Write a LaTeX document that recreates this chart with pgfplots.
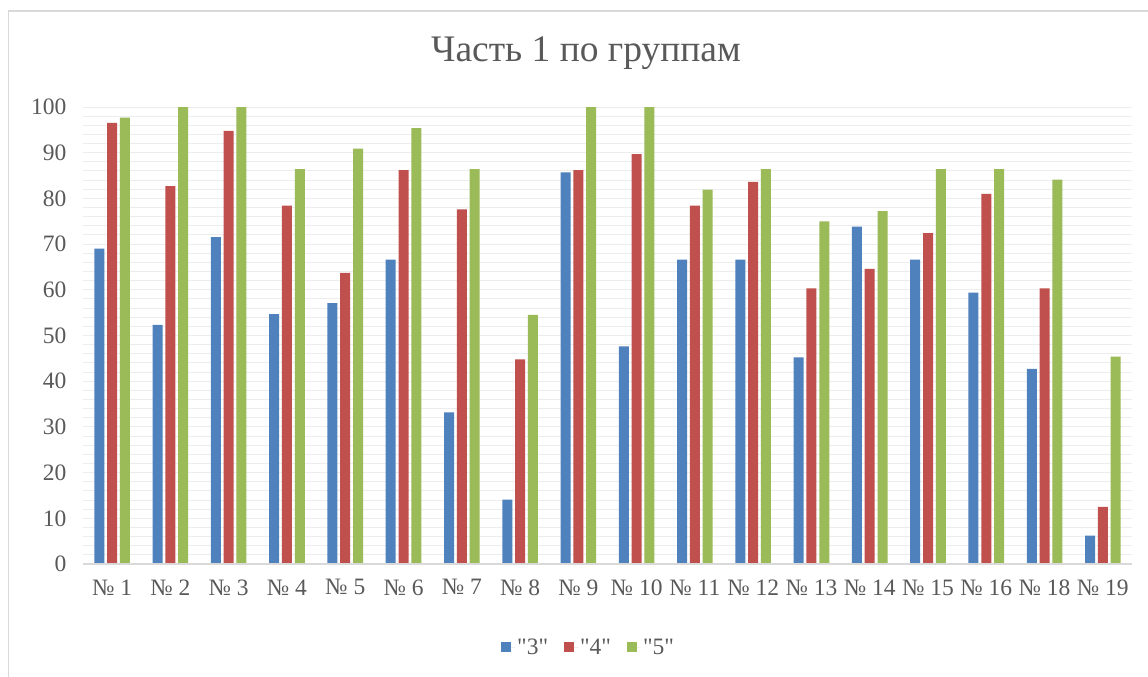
\documentclass[border=0pt]{standalone}
\usepackage{fontspec}
\setmainfont{Liberation Serif}[Ligatures=TeXOff]
\usepackage{pgfplots}
\pgfplotsset{compat=1.18}

\definecolor{cthree}{HTML}{4F81BD}
\definecolor{cfour}{HTML}{C0504D}
\definecolor{cfive}{HTML}{9BBB59}
\definecolor{txt}{HTML}{595959}
\definecolor{gridc}{HTML}{EDEDED}
\definecolor{axc}{HTML}{D9D9D9}

\pgfplotstableread{
x  three four five
0  69.0  96.5  97.7
1  52.3  82.7  100
2  71.5  94.8  100
3  54.7  78.4  86.4
4  57.1  63.7  90.9
5  66.6  86.2  95.4
6  33.2  77.6  86.4
7  14.1  44.8  54.5
8  85.7  86.2  100
9  47.6  89.7  100
10 66.6  78.4  81.9
11 66.6  83.6  86.4
12 45.2  60.3  75.0
13 73.8  64.6  77.2
14 66.6  72.4  86.4
15 59.4  81.0  86.4
16 42.7  60.3  84.1
17 6.2   12.5  45.4
}\grades

\begin{document}
\begin{tikzpicture}
\useasboundingbox (0,0) rectangle (1148pt,-677pt);
\fill[white] (0,0) rectangle (1148pt,-677pt);
\draw[axc, line width=1.2pt] (8.5pt,-690pt) -- (8.5pt,-11pt) -- (1160pt,-11pt);
\node[txt, font=\fontsize{37.5}{42}\selectfont] at (586pt,-53pt) {Часть 1 по группам};
\begin{axis}[
    at={(83pt,-564pt)}, anchor=south west,
    scale only axis,
    width=1049pt, height=457pt,
    ybar, bar width=10pt, ybar=2.8pt,
    xmin=-0.5, xmax=17.5,
    ymin=0, ymax=100,
    xtick=data,
    xticklabels={№ 1,№ 2,№ 3,№ 4,№ 5,№ 6,№ 7,№ 8,№ 9,№ 10,№ 11,№ 12,№ 13,№ 14,№ 15,№ 16,№ 18,№ 19},
    ytick={0,10,...,100},
    minor ytick={0,2,...,100},
    ymajorgrids, yminorgrids,
    major grid style={gridc, line width=1pt},
    minor grid style={gridc, line width=1pt},
    axis line style={draw=none},
    major tick length=0pt, minor tick length=0pt,
    tick label style={txt, font=\fontsize{23.5}{26}\selectfont},
    yticklabel style={xshift=-13pt},
    xticklabel style={yshift=-12pt},
    /pgf/number format/assume math mode=true,
    legend style={draw=none, fill=none, at={(0.482,-0.182)}, anchor=center,
        legend columns=-1, font=\fontsize{23.5}{26}\selectfont, text=txt,
        /tikz/every even column/.append style={column sep=14pt}},
    legend image code/.code={\fill[#1] (0pt,-5pt) rectangle (10pt,5pt);
        \path (0pt,0pt) -- (14pt,0pt);},
]
\addplot[fill=cthree, draw=none] table[x=x, y=three] {\grades};
\addplot[fill=cfour, draw=none] table[x=x, y=four] {\grades};
\addplot[fill=cfive, draw=none] table[x=x, y=five] {\grades};
\legend{"3","4","5"}
\end{axis}
\draw[axc, line width=1.2pt] (83pt,-564pt) -- (1132pt,-564pt);
\end{tikzpicture}
\end{document}
